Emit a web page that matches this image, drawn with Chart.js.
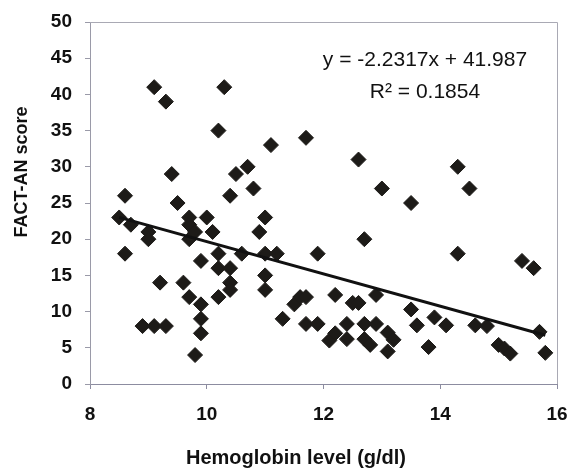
<!DOCTYPE html>
<html>
<head>
<meta charset="utf-8">
<script src="https://cdn.jsdelivr.net/npm/chart.js@4"></script>
<style>
  html, body { margin: 0; padding: 0; background: #ffffff; }
  #wrap { width: 576px; height: 469px; }
</style>
</head>
<body>
<div id="wrap"><canvas id="c" width="576" height="469"></canvas></div>
<script>
// ---- data ----
const hemoglobin = [
  8.5, 8.6, 8.6, 8.7, 8.9, 9.0, 9.0, 9.1, 9.1, 9.2,
  9.3, 9.3, 9.4, 9.5, 9.6, 9.7, 9.7, 9.7, 9.7, 9.8,
  9.8, 9.9, 9.9, 9.9, 9.9, 10.0, 10.1, 10.2, 10.2, 10.2,
  10.2, 10.3, 10.4, 10.4, 10.4, 10.4, 10.5, 10.6, 10.7, 10.8,
  10.9, 11.0, 11.0, 11.0, 11.1, 11.0, 11.2, 11.3, 11.5, 11.6,
  11.7, 11.7, 11.7, 11.9, 11.9, 12.1, 12.2, 12.2, 12.4, 12.4,
  12.5, 12.6, 12.6, 12.7, 12.7, 12.7, 12.8, 12.9, 12.9, 13.0,
  13.1, 13.1, 13.2, 13.5, 13.5, 13.6, 13.8, 13.9, 14.1, 14.3,
  14.3, 14.5, 14.6, 14.8, 15.0, 15.1, 15.2, 15.4, 15.6, 15.7,
  15.8
];
const factAnScore = [
  23, 26, 18, 22, 8, 21, 20, 41, 8, 14,
  39, 8, 29, 25, 14, 23, 22, 20, 12, 21,
  4, 17, 11, 9, 7, 23, 21, 35, 18, 16,
  12, 41, 26, 16, 14, 13, 29, 18, 30, 27,
  21, 23, 18, 15, 33, 13, 18, 9, 11, 12,
  34, 12, 8.3, 18, 8.3, 6, 12.3, 7, 8.3, 6.2,
  11.2, 31, 11.2, 20, 8.3, 6.2, 5.4, 12.3, 8.3, 27,
  7.1, 4.5, 6.1, 25, 10.3, 8.1, 5.1, 9.2, 8.1, 30,
  18, 27, 8.1, 8, 5.4, 4.9, 4.2, 17, 16, 7.2,
  4.3
];
const trendSlope = -2.2317;
const trendIntercept = 41.987;
const equationLabel = 'y = -2.2317x + 41.987';
const r2Label = 'R\u00B2 = 0.1854';
const xTicks = [8, 10, 12, 14, 16];
const yTicks = [0, 5, 10, 15, 20, 25, 30, 35, 40, 45, 50];
const xTitle = 'Hemoglobin level (g/dl)';
const yTitle = 'FACT-AN score';

// ---- build chart ----
const points = hemoglobin.map((x, i) => ({ x: x, y: factAnScore[i] }));
const xMin = Math.min(...hemoglobin);
const xMax = Math.max(...hemoglobin);
const trend = [xMin, xMax].map(x => ({ x: x, y: trendSlope * x + trendIntercept }));

const FONT = "'Liberation Sans', Arial, sans-serif";

const decorPlugin = {
  id: 'decor',
  afterDraw(chart) {
    const ctx = chart.ctx;
    const a = chart.chartArea;
    ctx.save();
    // top and right frame of plot area
    ctx.strokeStyle = '#a9a9b4';
    ctx.lineWidth = 1;
    ctx.beginPath();
    ctx.moveTo(a.left, a.top + 0.5);
    ctx.lineTo(a.right + 0.5, a.top + 0.5);
    ctx.lineTo(a.right + 0.5, a.bottom);
    ctx.stroke();
    // equation text
    ctx.fillStyle = '#111111';
    ctx.textAlign = 'center';
    ctx.textBaseline = 'middle';
    ctx.font = "21px " + FONT;
    ctx.fillText(equationLabel, 425, 60);
    ctx.fillText(r2Label, 425, 92);
    // axis titles
    ctx.font = "bold 20px " + FONT;
    ctx.fillText(xTitle, 296, 458);
    ctx.translate(22, 172);
    ctx.rotate(-Math.PI / 2);
    ctx.font = "bold 18px " + FONT;
    ctx.fillText(yTitle, 0, 0);
    ctx.restore();
  }
};

new Chart(document.getElementById('c'), {
  data: {
    datasets: [
      {
        type: 'line',
        data: trend,
        borderColor: '#111111',
        borderWidth: 3,
        pointRadius: 0,
        fill: false,
        tension: 0
      },
      {
        type: 'scatter',
        data: points,
        pointStyle: 'rectRot',
        pointRadius: 7.5,
        pointBackgroundColor: '#1d1b18',
        pointBorderColor: '#1d1b18',
        pointBorderWidth: 1
      }
    ]
  },
  options: {
    responsive: false,
    animation: false,
    devicePixelRatio: 1,
    layout: { padding: { top: 22, right: 19, left: 0, bottom: 0 } },
    plugins: {
      legend: { display: false },
      tooltip: { enabled: false }
    },
    scales: {
      x: {
        type: 'linear',
        min: 8,
        max: 16,
        afterFit: s => { s.height = 85; s.paddingLeft = 0; s.paddingRight = 0; },
        afterBuildTicks: s => { s.ticks = xTicks.map(v => ({ value: v })); },
        ticks: {
          color: '#111111',
          font: { family: FONT, size: 19, weight: 'bold' },
          padding: 14,
          maxRotation: 0
        },
        grid: {
          drawOnChartArea: false,
          drawTicks: true,
          tickLength: 5,
          color: '#8c8ca0'
        },
        border: { color: '#8c8ca0', width: 1 }
      },
      y: {
        type: 'linear',
        min: 0,
        max: 50,
        afterFit: s => { s.width = 90; s.paddingTop = 0; s.paddingBottom = 0; },
        afterBuildTicks: s => { s.ticks = yTicks.map(v => ({ value: v })); },
        ticks: {
          color: '#111111',
          font: { family: FONT, size: 19, weight: 'bold' },
          padding: 13
        },
        grid: {
          drawOnChartArea: false,
          drawTicks: true,
          tickLength: 5,
          color: '#9a9aa8'
        },
        border: { color: '#9a9aa8', width: 1 }
      }
    }
  },
  plugins: [decorPlugin]
});
</script>
</body>
</html>
